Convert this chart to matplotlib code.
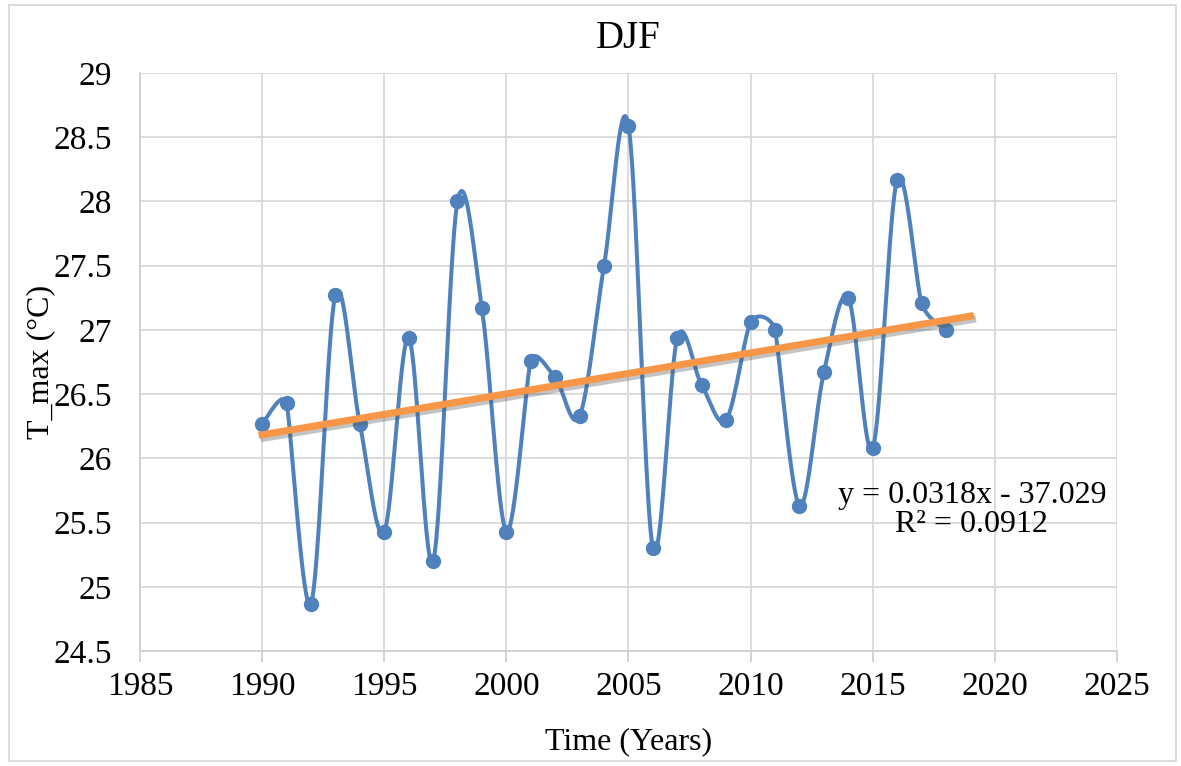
import numpy as np
import matplotlib
matplotlib.use("Agg")
import matplotlib.pyplot as plt
import matplotlib.patheffects as pe

years = [1990, 1991, 1992, 1993, 1994, 1995, 1996, 1997, 1998, 1999,
         2000, 2001, 2002, 2003, 2004, 2005, 2006, 2007, 2008, 2009,
         2010, 2011, 2012, 2013, 2014, 2015, 2016, 2017, 2018]
tmax = [26.27, 26.43, 24.87, 27.27, 26.27, 25.43, 26.94, 25.20, 28.00, 27.17,
        25.43, 26.76, 26.63, 26.33, 27.50, 28.59, 25.30, 26.94, 26.57, 26.30,
        27.06, 27.00, 25.63, 26.67, 27.25, 26.08, 28.17, 27.21, 27.00]
eq_text = "y = 0.0318x - 37.029\nR² = 0.0912"
trend_forward = 1

plt.rcParams['font.family'] = ['Liberation Serif', 'DejaVu Serif']

x = np.array(years, float)
y = np.array(tmax, float)

# Excel-like smoothed line: Catmull-Rom Bezier, control arms capped at half the adjacent segment (screen space)
SX, SY = 24.4, 128.4  # approx px per unit on each axis
def smooth(x, y, n=40):
    P = np.column_stack([x * SX, y * SY])
    m = len(P)
    t = np.linspace(0, 1, n)
    arms = []
    for i in range(m):
        prev = P[max(i - 1, 0)]
        nxt = P[min(i + 1, m - 1)]
        d = nxt - prev
        d02 = np.linalg.norm(d)
        dp = np.linalg.norm(P[i] - prev)
        dn = np.linalg.norm(nxt - P[i])
        f = 1 / 6
        if d02 > 0:
            if dp > 0:
                f = min(f, 0.5 * dp / d02)
            if dn > 0:
                f = min(f, 0.5 * dn / d02)
        arms.append(d * f)
    xs, ys = [], []
    for i in range(m - 1):
        p0, p3 = P[i], P[i + 1]
        c1 = p0 + arms[i]
        c2 = p3 - arms[i + 1]
        b = ((1 - t) ** 3)[:, None] * p0 + (3 * (1 - t) ** 2 * t)[:, None] * c1 + \
            (3 * (1 - t) * t ** 2)[:, None] * c2 + (t ** 3)[:, None] * p3
        xs.append(b[:, 0] / SX); ys.append(b[:, 1] / SY)
    return np.concatenate(xs), np.concatenate(ys)

fig = plt.figure(figsize=(11.81, 7.66), dpi=100)
ax = fig.add_axes([0.1185, 0.150, 0.8273, 0.7547])

sx, sy = smooth(x, y)
blue = '#4F81BD'
ax.plot(sx, sy, color=blue, lw=2.9, zorder=3, solid_capstyle='round')
ax.plot(x, y, 'o', color=blue, ms=10, zorder=4)

slope, inter = np.polyfit(x, y, 1)
tx = np.array([x[0], x[-1] + trend_forward])
ax.plot(tx, slope * tx + inter, color='#F79646', lw=5, zorder=5,
        path_effects=[pe.SimpleLineShadow(offset=(1.5, -2.5), shadow_color='#555555', alpha=0.35),
                      pe.Normal()])

ax.text(2019.06, 25.60, eq_text, ha='center', va='center', fontsize=23,
        multialignment='center', linespacing=1.0, zorder=6)

ax.set_xlim(1985, 2025)
ax.set_ylim(24.5, 29)
ax.set_xticks(np.arange(1985, 2026, 5))
ax.set_yticks(np.arange(24.5, 29.01, 0.5))
ax.set_yticklabels([f"{v:g}" for v in np.arange(24.5, 29.01, 0.5)])
ax.grid(True, color='#d9d9d9', lw=1.3)
ax.set_axisbelow(True)
for s in ['top', 'right']:
    ax.spines[s].set_visible(False)
for s in ['left', 'bottom']:
    ax.spines[s].set_color('#d0d0d0')
    ax.spines[s].set_linewidth(1.3)
ax.tick_params(axis='x', length=8, width=1.3, color='#d0d0d0', labelsize=24, pad=7)
ax.tick_params(axis='y', length=0, labelsize=24, pad=20)

ax.set_title('DJF', fontsize=28, pad=18)
ax.set_xlabel('Time (Years)', fontsize=23)
ax.set_ylabel('T_max (°C)', fontsize=23)
ax.xaxis.set_label_coords(0.5, -0.131)
ax.yaxis.set_label_coords(-0.087, 0.5)

fig.patches.append(plt.Rectangle((0.008, 0.006), 0.988, 0.988, transform=fig.transFigure,
                                 fill=False, edgecolor='#d9d9d9', lw=1.3))

fig.savefig('out.png', dpi=100)
